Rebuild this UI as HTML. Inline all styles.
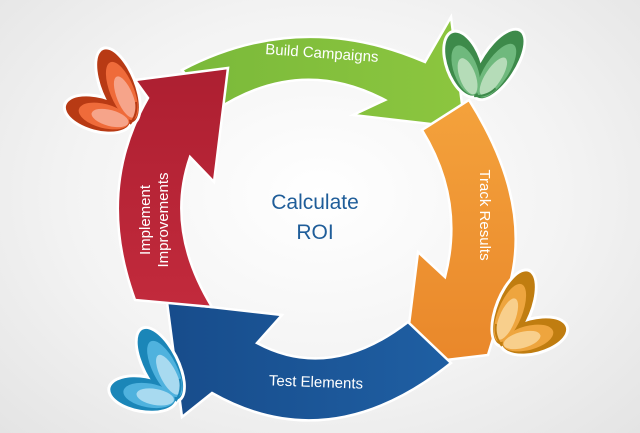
<!DOCTYPE html>
<html><head><meta charset="utf-8"><style>
html,body{margin:0;padding:0;width:640px;height:433px;overflow:hidden}
body{background:radial-gradient(ellipse at 50% 45%,#ffffff 0%,#f3f3f3 55%,#e4e4e4 100%);font-family:"Liberation Sans",sans-serif}
</style></head><body>
<svg width="640" height="433" viewBox="0 0 640 433" xmlns="http://www.w3.org/2000/svg">
<defs>
<linearGradient id="gg" x1="0" y1="0" x2="1" y2="0"><stop offset="0" stop-color="#7ab93a"/><stop offset="1" stop-color="#8cc63f"/></linearGradient>
<linearGradient id="og" x1="0" y1="0" x2="0" y2="1"><stop offset="0" stop-color="#f4a23c"/><stop offset="1" stop-color="#e9872a"/></linearGradient>
<linearGradient id="bg" x1="1" y1="0" x2="0" y2="0"><stop offset="0" stop-color="#1f5fa3"/><stop offset="1" stop-color="#174c8b"/></linearGradient>
<linearGradient id="rg" x1="0" y1="1" x2="0" y2="0"><stop offset="0" stop-color="#c22a3c"/><stop offset="1" stop-color="#ad1f31"/></linearGradient>
<g id="bf">
<ellipse cx="-14" cy="-42" rx="19" ry="42" transform="rotate(-22 -14 -42)" fill="#fff"/>
<ellipse cx="-34" cy="-14" rx="36" ry="19" transform="rotate(15 -34 -14)" fill="#fff"/>
<ellipse cx="-14" cy="-42" rx="16" ry="39" transform="rotate(-22 -14 -42)" fill="var(--c1)"/>
<ellipse cx="-34" cy="-14" rx="33" ry="16" transform="rotate(15 -34 -14)" fill="var(--c1)"/>
<ellipse cx="-10" cy="-37" rx="12" ry="31" transform="rotate(-22 -10 -37)" fill="var(--c2)"/>
<ellipse cx="-28" cy="-12" rx="26" ry="12" transform="rotate(15 -28 -12)" fill="var(--c2)"/>
<ellipse cx="-7" cy="-31" rx="8" ry="22" transform="rotate(-22 -7 -31)" fill="var(--c3)"/>
<ellipse cx="-22" cy="-10" rx="19" ry="8" transform="rotate(15 -22 -10)" fill="var(--c3)"/>
<path d="M-2,-4 Q6,-14 4,-26" stroke="var(--c1)" stroke-width="2" fill="none"/>
</g>
</defs>
<g stroke="#fff" stroke-width="2.5" stroke-linejoin="miter">
<path d="M182,70 Q300,8 425,62 L451,17 L465,128 L353,115 L385,100 Q300,55 216,110 Z" fill="url(#gg)"/>
<path d="M469,100 Q532,200 510,283 L488,355 L404,365 L418,252 L445,277 Q465,200 422,130 Z" fill="url(#og)"/>
<path d="M451,363 Q330,460 212,393 L182,417 L167,302 L282,315 L257,343 Q330,382 408,322 Z" fill="url(#bg)"/>
<path d="M135,300 Q95,190 148,98 L135,80 L228,68 L214,182 L190,157 Q165,230 212,307 Z" fill="url(#rg)"/>
</g>
<use href="#bf" transform="translate(132,128)" style="--c1:#b83a14;--c2:#ef6b3a;--c3:#f6a48a"/>
<use href="#bf" transform="translate(472,100) rotate(55)" style="--c1:#3d8a4a;--c2:#6fb97d;--c3:#b5dcb8"/>
<use href="#bf" transform="translate(500,350) scale(-1,1)" style="--c1:#c07d10;--c2:#eea53e;--c3:#f8cf8c"/>
<use href="#bf" transform="translate(178,405) rotate(-5)" style="--c1:#1b86b8;--c2:#4fb2de;--c3:#a8daf0"/>
<g fill="#fff" font-size="15">
<text x="322" y="58" text-anchor="middle" transform="rotate(4 322 52)">Build Campaigns</text>
<text x="0" y="0" text-anchor="middle" transform="translate(480,215) rotate(90)">Track Results</text>
<text x="316" y="387" text-anchor="middle" transform="rotate(2 316 382)">Test Elements</text>
<text x="0" y="0" text-anchor="middle" transform="translate(150,220) rotate(-90)">Implement</text>
<text x="0" y="0" text-anchor="middle" transform="translate(168,220) rotate(-90)">Improvements</text>
</g>
<g fill="#1f5d99" font-size="21" text-anchor="middle">
<text x="315" y="209">Calculate</text>
<text x="315" y="239">ROI</text>
</g>
</svg>
</body></html>
